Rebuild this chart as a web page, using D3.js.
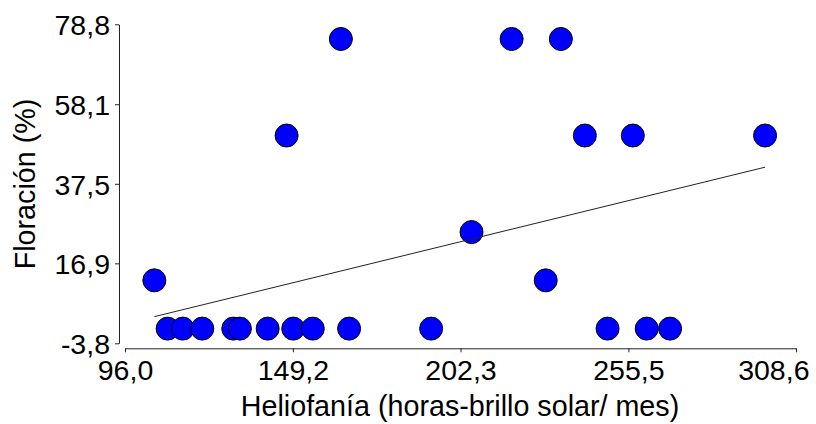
<!DOCTYPE html>
<html>
<head>
<meta charset="utf-8">
<script src="https://cdn.jsdelivr.net/npm/d3@7"></script>
<style>
  html, body { margin: 0; padding: 0; background: #fff; }
  svg { display: block; }
  text { font-family: "Liberation Sans", Arial, sans-serif; fill: #000; }
</style>
</head>
<body>
<svg id="chart" width="816" height="424"></svg>
<script>
// Sunshine hours per month (x) and flowering percentage (y)
const heliofania = [
  105.3, 109.5, 114.3, 120.5, 130.3, 132.4, 141.2, 147.2, 149.3, 155.5,
  164.4, 167.0, 193.0, 205.8, 218.5, 229.3, 234.1, 241.7, 248.9, 256.9,
  261.3, 268.7, 298.8
];
const floracion = [
  12.5, 0, 0, 0, 0, 0, 0, 50, 0, 0,
  75, 0, 0, 25, 75, 12.5, 75, 50, 0, 50,
  0, 0, 50
];
// Fitted trend line: values at the smallest and largest x
const trendX = [105.3, 298.8];
const trendY = [3.1, 41.8];

const xTicks = [96.0, 149.2, 202.3, 255.5, 308.6];
const yTicks = [-3.8, 16.9, 37.5, 58.1, 78.8];

const fmt = v => v.toFixed(1).replace(".", ",");

const svg = d3.select("#chart");
const W = 816;

const x = d3.scaleLinear().domain([96.0, 308.6]).range([125, 796]);
const y = d3.scaleLinear().domain([-3.8, 78.8]).range([343.3, 24.3]);

const axisColor = "#222";
const tickFont = "28.5px";

// Y axis, offset to the left of the plotting area
const gy = svg.append("g")
  .attr("transform", "translate(119,0)")
  .call(d3.axisLeft(y).tickValues(yTicks).tickFormat(fmt)
    .tickSize(4).tickSizeOuter(0).tickPadding(5));
gy.selectAll("text").attr("dy", "0.36em").style("font-size", tickFont);

// X axis, offset below the plotting area
const gx = svg.append("g")
  .attr("transform", "translate(0,348.3)")
  .call(d3.axisBottom(x).tickValues(xTicks).tickFormat(fmt)
    .tickSize(4).tickSizeOuter(0).tickPadding(7));
gx.selectAll("text").style("font-size", tickFont);

[gx, gy].forEach(g => {
  g.select(".domain").attr("stroke", axisColor);
  g.selectAll(".tick line").attr("stroke", axisColor);
  g.selectAll(".tick text").attr("fill", "#000")
    .style("font-family", '"Liberation Sans", Arial, sans-serif');
});

// Keep the last x label inside the canvas
gx.selectAll(".tick text").each(function (d) {
  const t = d3.select(this);
  const w = this.getComputedTextLength();
  const cx = x(d);
  const right = W - 7;
  if (cx + w / 2 > right) {
    t.attr("text-anchor", "end").attr("x", right - cx);
  }
});

// Data points
svg.append("g")
  .selectAll("circle")
  .data(heliofania.map((h, i) => [h, floracion[i]]))
  .join("circle")
  .attr("cx", d => x(d[0]))
  .attr("cy", d => y(d[1]))
  .attr("r", 11.5)
  .attr("fill", "#0000ff")
  .attr("stroke", "#000")
  .attr("stroke-width", 1);

// Trend line on top of the points
svg.append("path")
  .datum(trendX.map((v, i) => [v, trendY[i]]))
  .attr("d", d3.line().x(d => x(d[0])).y(d => y(d[1])))
  .attr("fill", "none")
  .attr("stroke", "#222")
  .attr("stroke-width", 1);

// Axis titles
svg.append("text")
  .attr("x", 460)
  .attr("y", 416)
  .attr("text-anchor", "middle")
  .style("font-size", "28.7px")
  .text("Heliofanía (horas-brillo solar/ mes)");

svg.append("text")
  .attr("transform", "translate(35,184) rotate(-90)")
  .attr("text-anchor", "middle")
  .style("font-size", "28.7px")
  .text("Floración (%)");
</script>
</body>
</html>
